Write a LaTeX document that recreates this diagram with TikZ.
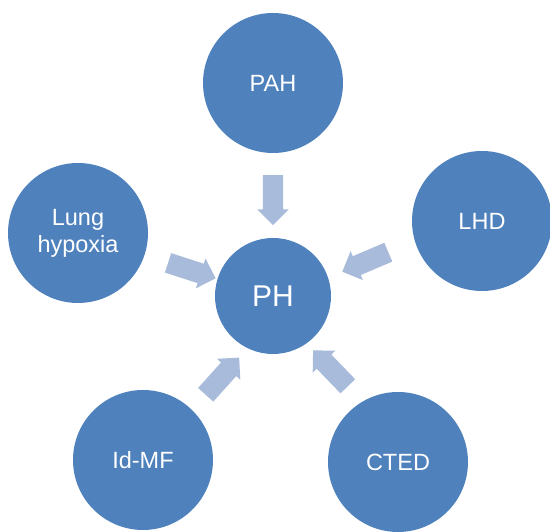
\documentclass[tikz,border=0pt]{standalone}
\usepackage{fontspec}
\setmainfont{Liberation Sans}
\usepackage{tikz}
\usetikzlibrary{shapes.arrows}
\definecolor{discblue}{HTML}{4F81BD}
\definecolor{arrowblue}{HTML}{A9BBDA}
\tikzset{
  causedisc/.style = {circle, fill=discblue, text=white, minimum size=140pt,
                      inner sep=0pt, align=center, font=\fontsize{23.5}{27}\selectfont},
  hubdisc/.style   = {circle, fill=discblue, text=white, minimum size=116pt,
                      inner sep=0pt, font=\fontsize{30}{32}\selectfont},
  fatarrow/.style  = {single arrow, fill=arrowblue, draw=none,
                      inner xsep=0pt, inner ysep=10pt,
                      minimum height=50pt,
                      single arrow head extend=5.5pt, single arrow tip angle=90}
}

\begin{document}
\begin{tikzpicture}[x=1pt,y=1pt]
  \useasboundingbox (0,0) rectangle (550,532);
  % centre disc and the five causes around it
  \node[hubdisc]   (ph)   at (273,236) {PH};
  \node[causedisc] (pah)  at (273,449) {PAH};
  \node[causedisc] (lung) at (78,299)  {Lung\\hypoxia};
  \node[causedisc] (lhd)  at (482,311) {LHD};
  \node[causedisc] (idmf) at (143,72)  {Id-MF};
  \node[causedisc] (cted) at (398,70)  {CTED};
  % block arrows pointing into PH
  \node[fatarrow,rotate=-90] (a-pah)  at (273,337) {};
  \node[fatarrow,rotate=-18] (a-lung) at (187,263) {};
  \node[fatarrow,rotate=203] (a-lhd)  at (370,272) {};
  \node[fatarrow,rotate=48]  (a-idmf) at (219,152) {};
  \node[fatarrow,rotate=134] (a-cted) at (334,160) {};
\end{tikzpicture}
\end{document}
